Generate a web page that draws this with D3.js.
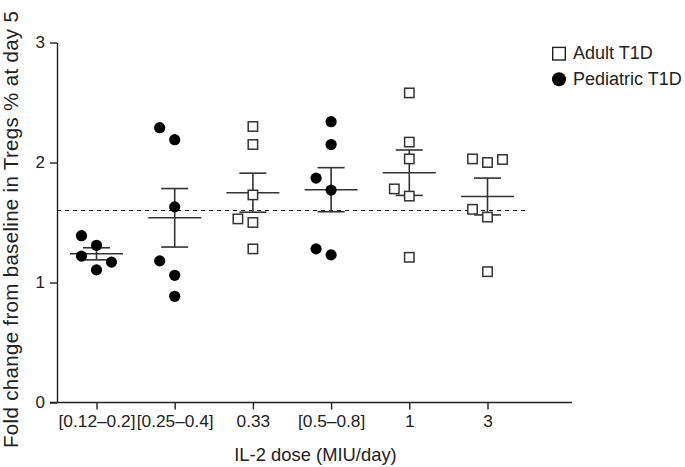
<!DOCTYPE html>
<html>
<head>
<meta charset="utf-8">
<script src="https://cdn.jsdelivr.net/npm/d3@7"></script>
<style>
  html, body { margin: 0; padding: 0; background: #fff; }
  svg { display: block; font-family: "Liberation Sans", Arial, sans-serif; }
</style>
</head>
<body>
<svg id="chart" width="685" height="467"></svg>
<script>
// ---- data ----
const categories = ["[0.12\u20130.2]", "[0.25\u20130.4]", "0.33", "[0.5\u20130.8]", "1", "3"];
const seriesNames = ["Adult T1D", "Pediatric T1D"];
const groupSeries = ["Pediatric T1D", "Pediatric T1D", "Adult T1D", "Pediatric T1D", "Adult T1D", "Adult T1D"];
const dose012to02 = [1.105, 1.22, 1.17, 1.31, 1.39];
const dose025to04 = [0.885, 1.06, 1.18, 1.63, 2.19, 2.29];
const dose033 = [1.28, 1.50, 1.53, 1.73, 2.15, 2.30];
const dose05to08 = [1.23, 1.28, 1.77, 1.87, 2.15, 2.34];
const dose1 = [1.21, 1.72, 1.78, 2.03, 2.17, 2.58];
const dose3 = [1.09, 1.545, 1.61, 2.00, 2.03, 2.025];
const groupValues = [dose012to02, dose025to04, dose033, dose05to08, dose1, dose3];
const yTicks = [0, 1, 2, 3];
const referenceLevel = 1.6;

// ---- layout ----
const svg = d3.select("#chart");
const axisLeftX = 57, axisRightX = 572;
const x = d3.scalePoint().domain(categories).range([96.5, 487.5]);
const y = d3.scaleLinear().domain([0, 3]).range([402.5, 42.5]);
const ink = "#222";

// y axis
const gy = svg.append("g").attr("transform", `translate(${axisLeftX},0)`)
  .call(d3.axisLeft(y).tickValues(yTicks).tickFormat(d3.format("d")).tickSize(7).tickPadding(5).tickSizeOuter(0));
gy.selectAll("path,line").attr("stroke", ink).attr("stroke-width", 1.4);
gy.selectAll("text").attr("font-size", 17).attr("fill", ink).attr("font-family", "Liberation Sans, Arial, sans-serif");

// x axis
const gx = svg.append("g").attr("transform", `translate(0,${y(0)})`)
  .call(d3.axisBottom(x).tickSize(7).tickPadding(5));
gx.select(".domain").remove();
gx.selectAll("line").attr("stroke", ink).attr("stroke-width", 1.4);
gx.selectAll("text").attr("font-size", 17.3).attr("fill", ink).attr("font-family", "Liberation Sans, Arial, sans-serif");
svg.append("line").attr("x1", axisLeftX - 7).attr("x2", axisRightX)
  .attr("y1", y(0)).attr("y2", y(0)).attr("stroke", ink).attr("stroke-width", 1.4);

// reference line
svg.append("line").attr("x1", axisLeftX).attr("x2", 528)
  .attr("y1", y(referenceLevel)).attr("y2", y(referenceLevel))
  .attr("stroke", "#000").attr("stroke-width", 1.2).attr("stroke-dasharray", "4,4");

// axis titles
svg.append("text").attr("x", 315.5).attr("y", 461).attr("text-anchor", "middle")
  .attr("font-size", 18.4).attr("fill", ink).text("IL-2 dose (MIU/day)");
svg.append("text").attr("transform", `translate(18,448) rotate(-90)`).attr("text-anchor", "start")
  .attr("font-size", 20.5).attr("letter-spacing", 0.32).attr("fill", ink)
  .text("Fold change from baseline in Tregs % at day 5");

// ---- dodge points that would overlap (greedy: centre, then left, then right) ----
const dodgeStep = 15, minGap = 15.5;
const points = [];
groupValues.forEach((vals, gi) => {
  const cols = { "0": [], "-1": [], "1": [] };
  vals.forEach(v => {
    const py = y(v);
    let slot = [0, -1, 1].find(s => cols[s].every(o => Math.abs(o - py) >= minGap));
    if (slot === undefined) slot = 0;
    cols[slot].push(py);
    points.push({ cat: categories[gi], series: groupSeries[gi], value: v, slot });
  });
});

// ---- mean ± SEM ----
const stats = groupValues.map((vals, gi) => {
  const m = d3.mean(vals);
  const sem = d3.deviation(vals) / Math.sqrt(vals.length);
  return { cat: categories[gi], mean: m, lo: m - sem, hi: m + sem };
});
const eg = svg.append("g").attr("stroke", "#333").attr("stroke-width", 1.6);
stats.forEach(s => {
  const cx = x(s.cat);
  eg.append("line").attr("x1", cx - 26.5).attr("x2", cx + 26.5).attr("y1", y(s.mean)).attr("y2", y(s.mean));
  eg.append("line").attr("x1", cx).attr("x2", cx).attr("y1", y(s.lo)).attr("y2", y(s.hi));
  eg.append("line").attr("x1", cx - 13.5).attr("x2", cx + 13.5).attr("y1", y(s.hi)).attr("y2", y(s.hi));
  eg.append("line").attr("x1", cx - 13.5).attr("x2", cx + 13.5).attr("y1", y(s.lo)).attr("y2", y(s.lo));
});

// ---- markers ----
const mg = svg.append("g");
points.forEach(p => {
  const cx = x(p.cat) + p.slot * dodgeStep, cy = y(p.value);
  if (p.series === "Pediatric T1D") {
    mg.append("circle").attr("cx", cx).attr("cy", cy).attr("r", 5.6).attr("fill", "#000");
  } else {
    mg.append("rect").attr("x", cx - 4.7).attr("y", cy - 4.7).attr("width", 9.4).attr("height", 9.4)
      .attr("fill", "#fff").attr("stroke", "#333").attr("stroke-width", 1.5);
  }
});

// ---- legend ----
const lg = svg.append("g");
seriesNames.forEach((name, i) => {
  const cy = 53.7 + i * 25.6;
  if (name === "Adult T1D") {
    lg.append("rect").attr("x", 559 - 6.3).attr("y", cy - 6.3).attr("width", 12.6).attr("height", 12.6)
      .attr("fill", "#fff").attr("stroke", "#222").attr("stroke-width", 1.4);
  } else {
    lg.append("circle").attr("cx", 559).attr("cy", cy).attr("r", 7).attr("fill", "#000");
  }
  lg.append("text").attr("x", 573).attr("y", cy + 5.5).attr("font-size", 18).attr("fill", ink).text(name);
});
</script>
</body>
</html>
